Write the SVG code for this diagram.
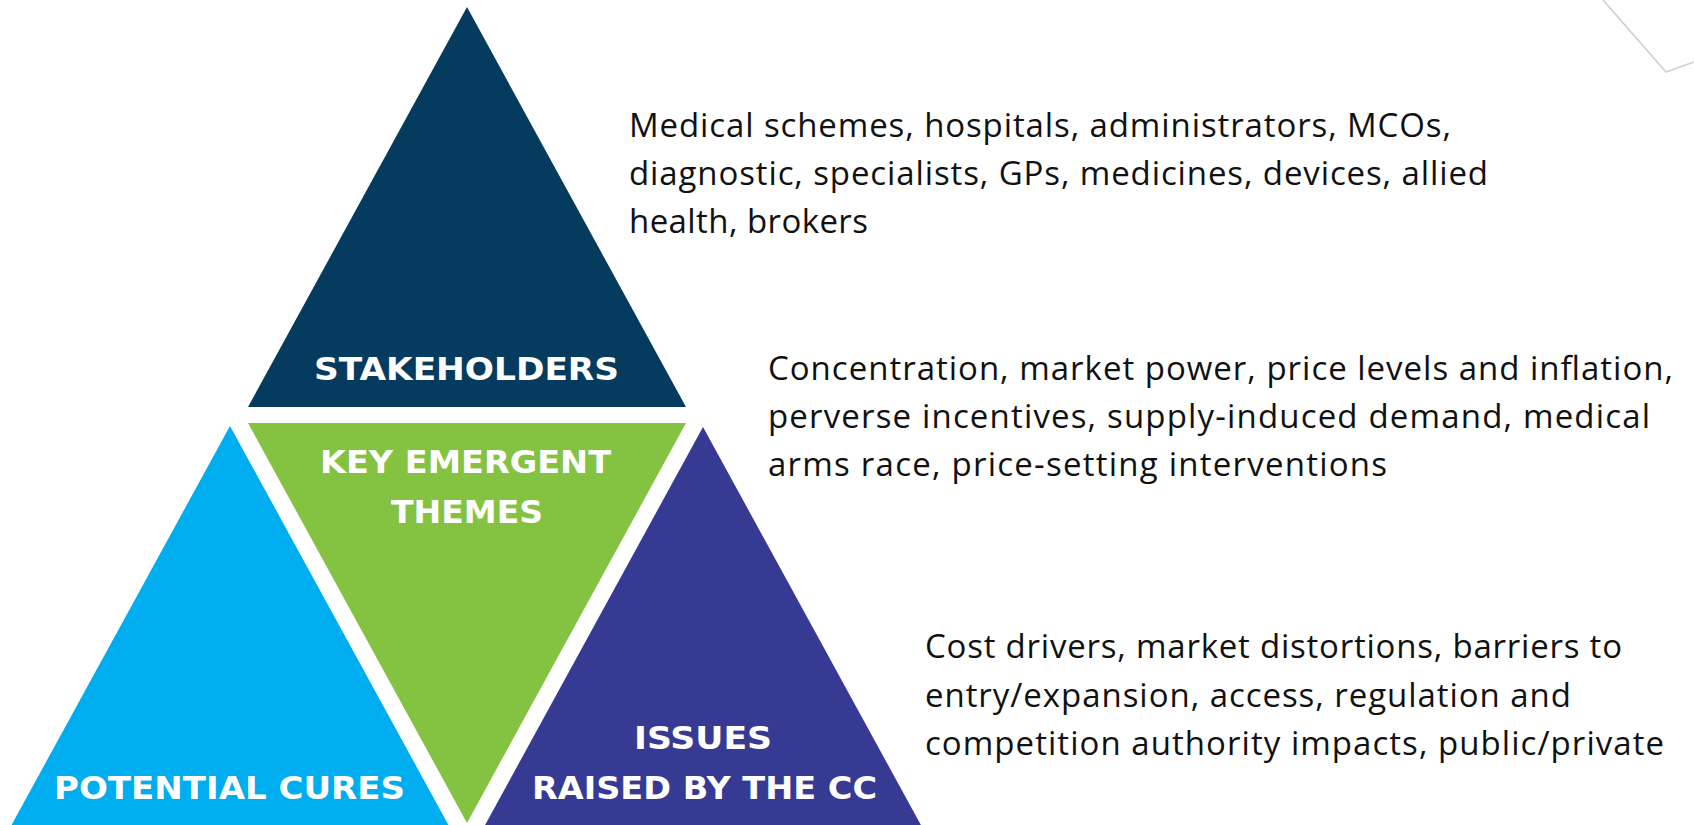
<svg xmlns="http://www.w3.org/2000/svg" width="1694" height="825" viewBox="0 0 1694 825">
  <style>
    .label { font-family: "DejaVu Sans", "Liberation Sans", sans-serif; font-weight: bold; font-size: 32px; fill: #ffffff; text-anchor: middle; }
    .body { font-family: "Open Sans", "Noto Sans", "Liberation Sans", sans-serif; font-size: 33px; fill: #111111; }
  </style>
  <rect width="1694" height="825" fill="#ffffff"/>

  <!-- corner ornament -->
  <polyline points="1603,0 1666,72 1694,62" fill="none" stroke="#cfcfcf" stroke-width="1.6"/>

  <g id="stakeholders">
    <polygon points="467,7 248,407 686,407" fill="#053b5e"/>
    <text class="label" x="466.5" y="380" textLength="305" lengthAdjust="spacingAndGlyphs">STAKEHOLDERS</text>
  </g>

  <g id="key-emergent-themes">
    <polygon points="248,423 686,423 467,823" fill="#84c241"/>
    <text class="label" x="465.5" y="473" textLength="291" lengthAdjust="spacingAndGlyphs">KEY EMERGENT</text>
    <text class="label" x="467" y="523" textLength="152" lengthAdjust="spacingAndGlyphs">THEMES</text>
  </g>

  <g id="potential-cures">
    <polygon points="230,426 11,826 449,826" fill="#00adee"/>
    <text class="label" x="229.5" y="799" textLength="351" lengthAdjust="spacingAndGlyphs">POTENTIAL CURES</text>
  </g>

  <g id="issues-raised">
    <polygon points="703,427 484,827 922,827" fill="#363a93"/>
    <text class="label" x="703" y="749" textLength="138" lengthAdjust="spacingAndGlyphs">ISSUES</text>
    <text class="label" x="704.5" y="799" textLength="345" lengthAdjust="spacingAndGlyphs">RAISED BY THE CC</text>
  </g>

  <g id="connectors"></g>

  <g id="stakeholders-notes">
    <text class="body" x="629" y="137" textLength="822">Medical schemes, hospitals, administrators, MCOs,</text>
    <text class="body" x="629" y="185" textLength="859">diagnostic, specialists, GPs, medicines, devices, allied</text>
    <text class="body" x="629" y="233" textLength="239">health, brokers</text>
  </g>

  <g id="themes-notes">
    <text class="body" x="768" y="380" textLength="905">Concentration, market power, price levels and inflation,</text>
    <text class="body" x="768" y="428" textLength="882">perverse incentives, supply-induced demand, medical</text>
    <text class="body" x="768" y="476" textLength="619">arms race, price-setting interventions</text>
  </g>

  <g id="issues-notes">
    <text class="body" x="925" y="658" textLength="697">Cost drivers, market distortions, barriers to</text>
    <text class="body" x="925" y="706.5" textLength="646">entry/expansion, access, regulation and</text>
    <text class="body" x="925" y="755" textLength="739">competition authority impacts, public/private</text>
  </g>
</svg>
